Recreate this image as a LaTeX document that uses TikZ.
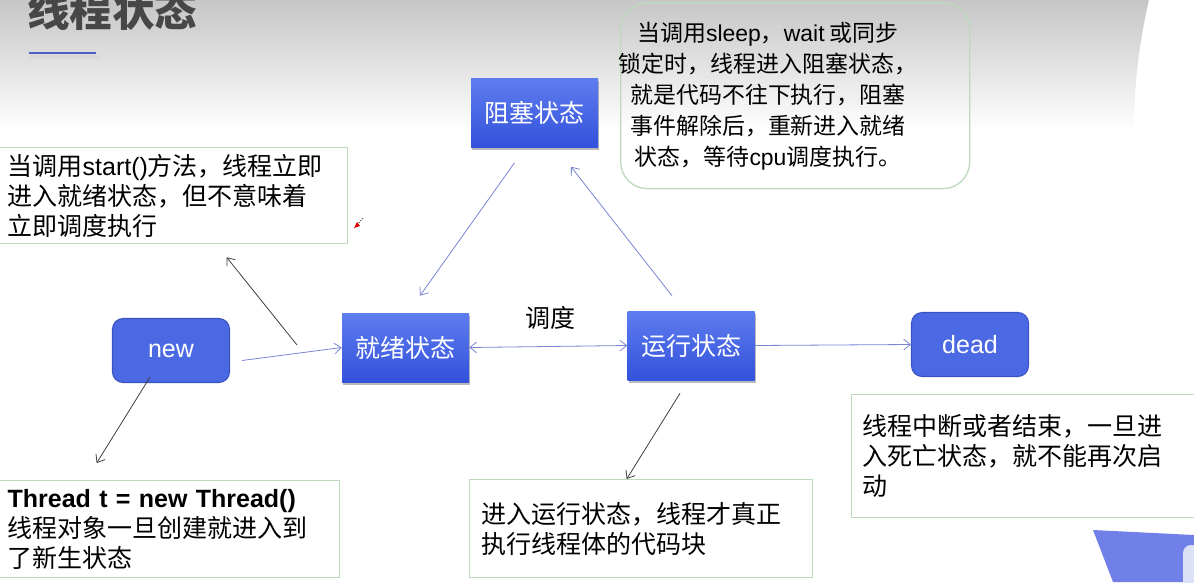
\documentclass[tikz,border=0pt]{standalone}
\usepackage{fontspec}
\setmainfont{Noto Sans CJK SC}
\newfontfamily\lat{Liberation Sans}
\usetikzlibrary{arrows.meta,shadows,calc}
\newdimen\px \px=0.75pt
\definecolor{bgtop}{HTML}{C6C6C6}
\definecolor{bgmid}{HTML}{E2E2E2}
\definecolor{blktop}{HTML}{5E7DEF}
\definecolor{blkbot}{HTML}{3351DB}
\definecolor{rndfill}{HTML}{4B69E2}
\definecolor{rndline}{HTML}{3A52C2}
\definecolor{notegreen}{HTML}{BCDABC}
\definecolor{conn}{HTML}{7A85D6}
\definecolor{titlegray}{HTML}{474747}
\definecolor{uline}{HTML}{4A5EC6}
\definecolor{cornerblue}{HTML}{7080E8}
\definecolor{cornerlight}{HTML}{DDE1F8}
\tikzset{
  txt/.style={font=\fontsize{18.75pt}{22.5pt}\selectfont},
  block/.style={txt, text=white, top color=blktop, bottom color=blkbot, draw=none,
    minimum width=127\px, minimum height=69\px, inner sep=0pt,
    drop shadow={shadow xshift=0.8pt, shadow yshift=-2.2pt, opacity=0.45, fill=black!60}},
  rnd/.style={txt, text=white, fill=rndfill, draw=rndline, line width=0.8pt,
    rounded corners=8pt, minimum width=117\px, minimum height=64\px, inner sep=0pt, font=\lat\fontsize{18.75pt}{22.5pt}\selectfont},
  note/.style={txt, draw=notegreen, fill=white, line width=1pt, align=left, anchor=north west, inner ysep=0pt},
  conline/.style={draw=conn, line width=0.6pt, -{Straight Barb[length=5pt,width=8pt]}},
  blkline/.style={draw=black!75, line width=0.6pt, -{Straight Barb[length=5pt,width=8pt]}}
}
\begin{document}
\begin{tikzpicture}[x=0.75pt,y=-0.75pt]
\useasboundingbox (0,0) rectangle (1194,582);
\fill[white] (0,0) rectangle (1194,582);
\shade[top color=bgtop, bottom color=bgmid] (0,0) rectangle (1194,65);
\shade[top color=bgmid, bottom color=white] (0,65) rectangle (1194,131);
\fill[white] (1149,0) .. controls (1140,40) and (1134,80) .. (1134,131) -- (1194,131) -- (1194,0) -- cycle;

% title
\node[anchor=base west, inner sep=0pt, text=titlegray, font=\bfseries\fontsize{31.9pt}{36pt}\selectfont] (title) at (27,26) {线程状态};
\draw[black!15, line width=3.5\px, line cap=round] (31,57) -- (98,57);
\draw[uline, line width=2.5\px] (29,53) -- (96,53);

% corner decoration
\fill[cornerblue] (1093,530) -- (1194,535) -- (1194,582) -- (1113,582) -- cycle;
\fill[cornerlight, rounded corners=6pt] (1183,545) rectangle (1200,590);

% state nodes
\node[block] (block) at (534.5,113) {阻塞状态};
\node[block] (ready) at (405.5,347.5) {就绪状态};
\node[block] (run) at (691,345.5) {运行状态};
\node[rnd] (new) at (171,350.5) {new};
\node[rnd] (dead) at (970,344.5) {dead};

% notes
\node[note, minimum width=349\px, minimum height=96\px, text width=331\px, inner xsep=9\px] (startnote) at (-2,147)
  {当调用{\lat start()}方法，线程立即\\进入就绪状态，但不意味着\\立即调度执行};
\node[note, minimum width=341\px, minimum height=97\px, text width=323\px, inner xsep=9\px] (threadnote) at (-2,480)
  {{\lat\bfseries Thread t = new Thread()}\\线程对象一旦创建就进入到\\了新生状态};
\node[note, minimum width=343\px, minimum height=98\px, text width=319\px, inner xsep=12\px] (runnote) at (469,479)
  {进入运行状态，线程才真正\\执行线程体的代码块};
\node[note, minimum width=345\px, minimum height=123\px, text width=323\px, inner xsep=11\px] (deadnote) at (851,394)
  {线程中断或者结束，一旦进\\入死亡状态，就不能再次启\\动};

% callout
\node[draw=notegreen, line width=1pt, rounded corners=20pt, minimum width=349\px, minimum height=186\px, anchor=north west] (callout) at (620,2) {};
\node[align=center, inner sep=0pt, font=\fontsize{17.2pt}{23.2pt}\selectfont] (callouttext) at (768,96)
  {当调用{\lat sleep}，{\lat wait} 或同步\\锁定时，线程进入阻塞状态，\\就是代码不往下执行，阻塞\\事件解除后，重新进入就绪\\状态，等待{\lat cpu}调度执行。};

% label
\node[txt, inner sep=0pt] (sched) at (550,318) {调度};

% connectors
\draw[conline] ($(new.east)+(12,10)$) -- (ready.west);
\draw[conline, {Straight Barb[length=5pt,width=8pt]}-{Straight Barb[length=5pt,width=8pt]}] (ready.east) -- (run.west);
\draw[conline] (run.east) -- (dead.west);
\draw[conline] ($(block.south)+(-20,15)$) -- ($(ready.north)+(14.5,-17)$);
\draw[conline] ($(run.north)+(-19,-15)$) -- ($(block.south)+(36.5,19)$);

\coordinate (c1) at (297,345);
\draw[blkline] (c1) -- ($(startnote.south)+(53.5,13)$);
\draw[blkline] ($(new.south)+(-21,-6)$) -- ($(threadnote.north)+(-72.5,-17)$);
\draw[blkline] ($(run.south)+(-11,13)$) -- ($(runnote.north)+(-14.5,0)$);

% cursor artifact
\coordinate (cur) at (363,218);
\draw[black!60, line width=0.8pt, dash pattern=on 1pt off 1pt] (cur) -- ++(-6,7);
\fill[red!85!black] (354,228) -- (357,222) -- (360,226) -- cycle;
\end{tikzpicture}
\end{document}
